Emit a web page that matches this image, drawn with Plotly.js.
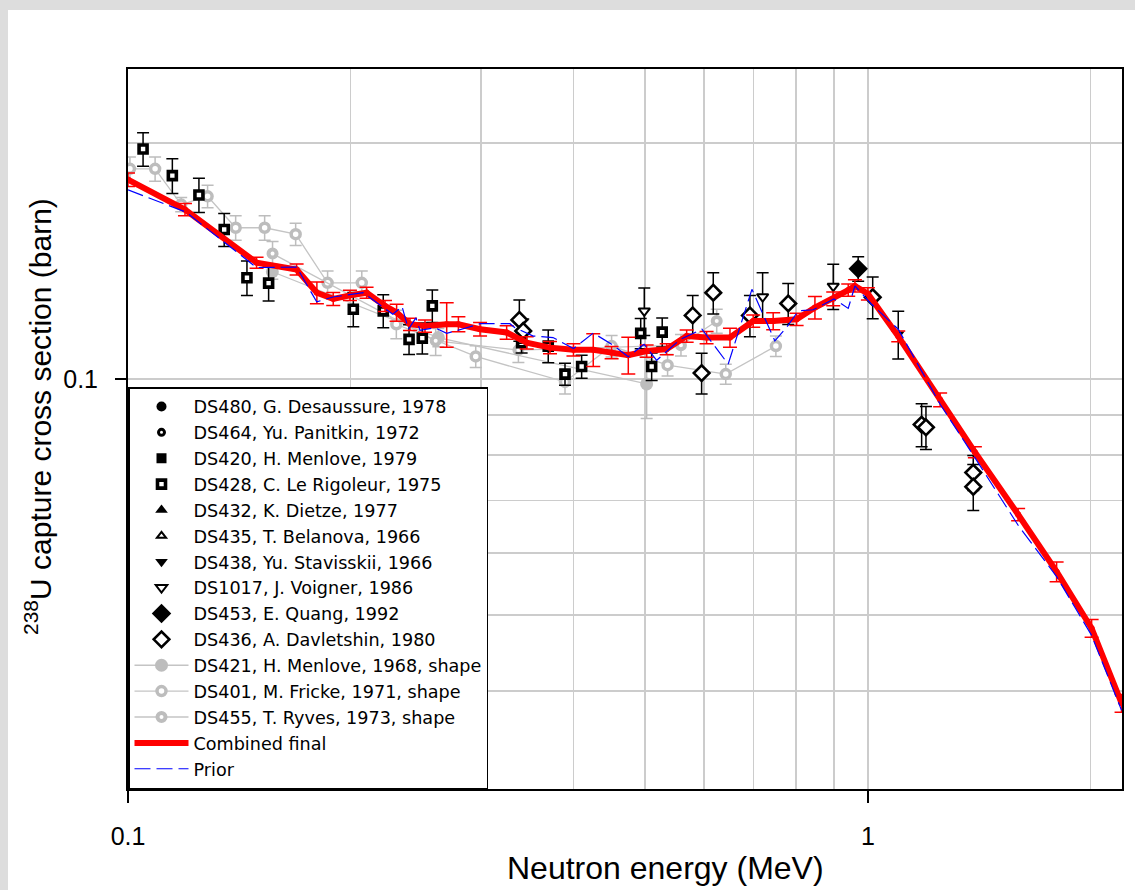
<!DOCTYPE html>
<html>
<head>
<meta charset="utf-8">
<script src="https://cdn.plot.ly/plotly-3.0.1.min.js"></script>
<style>
  html, body { margin: 0; padding: 0; background: #dddddd; width: 1135px; height: 890px; overflow: hidden; }
  #chart { position: absolute; left: 8px; top: 10px; width: 1127px; height: 880px; background: #ffffff; }
</style>
</head>
<body>
<div id="chart"></div>
<script>
// 238U capture cross section, 0.1 - 2.2 MeV

// Combined final evaluation (energy in MeV, cross section in barn, uncertainty in %)
const combinedE = [0.1, 0.1194, 0.1492, 0.169, 0.18, 0.1894, 0.1995, 0.2101, 0.2225, 0.2307,
  0.2405, 0.252, 0.2696, 0.2796, 0.2991, 0.3249, 0.3458, 0.3718, 0.4, 0.4254,
  0.4504, 0.4744, 0.5023, 0.5346, 0.5689, 0.6053, 0.651, 0.6998, 0.7447, 0.801,
  0.848, 0.8977, 0.9406, 0.9604, 1.0, 1.099, 1.252, 1.395, 1.596, 1.799, 2.006, 2.202];
const combinedXS = [0.1797, 0.1646, 0.1408, 0.138, 0.1289, 0.1266, 0.1279, 0.1289, 0.124, 0.1216,
  0.1175, 0.1169, 0.1175, 0.1175, 0.1158, 0.1147, 0.1113, 0.1097, 0.109, 0.109,
  0.1081, 0.1073, 0.1086, 0.1092, 0.1135, 0.113, 0.113, 0.1186, 0.1186, 0.1192,
  0.1234, 0.1266, 0.1299, 0.1315, 0.1285, 0.1134, 0.0941, 0.0807, 0.0672, 0.0568, 0.0481, 0.0386];
const combinedUncPct = [2, 1.8, 1.6, 1.6, 3.2, 1.9, 1.5, 1.6, 1.6, 2.5,
  1.8, 1.8, 6.5, 2.2, 2, 2, 1.8, 1.8, 1.8, 4.8,
  1.8, 5.4, 1.8, 1.6, 1.8, 1.8, 2.8, 1.8, 2.5, 1.8,
  3.3, 2, 1.8, 1.8, 1.8, 1.6, 2, 1.6, 1.8, 2.9, 2.6, 2.6];

// Prior
const priorE = [0.1, 0.1198, 0.1492, 0.169, 0.1799, 0.1893, 0.2078, 0.228, 0.2346, 0.2393,
  0.245, 0.2481, 0.26, 0.2696, 0.2869, 0.2991, 0.3282, 0.3334, 0.3529, 0.3753,
  0.4, 0.4254, 0.4504, 0.4744, 0.4982, 0.5182, 0.5571, 0.5967, 0.6474, 0.697,
  0.7486, 0.7767, 0.8053, 0.8435, 0.8997, 0.9406, 0.9604, 1.009, 1.099, 1.252,
  1.395, 1.596, 1.799, 2.006, 2.202];
const priorXS = [0.1744, 0.1633, 0.1388, 0.139, 0.1255, 0.1273, 0.1289, 0.121, 0.1238, 0.1158,
  0.1197, 0.1154, 0.1163, 0.1144, 0.1163, 0.1177, 0.1177, 0.1163, 0.1135, 0.113,
  0.1094, 0.1145, 0.1108, 0.1068, 0.1108, 0.1057, 0.1123, 0.1158, 0.1045, 0.1302,
  0.1119, 0.1165, 0.1222, 0.1226, 0.1266, 0.1231, 0.1315, 0.1249, 0.1158, 0.0929,
  0.0794, 0.0651, 0.056, 0.0471, 0.0378];

// DS428, C. Le Rigoleur, 1975
const rigoleurE = [0.1048, 0.1148, 0.1247, 0.1349, 0.1448, 0.1549, 0.2016, 0.2213, 0.2398, 0.2499,
  0.2578, 0.3404, 0.3698, 0.3896, 0.4103, 0.4931, 0.5102, 0.5272];
const rigoleurXS = [0.1966, 0.1818, 0.1718, 0.1552, 0.1347, 0.1326, 0.1228, 0.1222, 0.1124, 0.1128,
  0.124, 0.1113, 0.1102, 0.1015, 0.1038, 0.1144, 0.1038, 0.1148];
const rigoleurErr = [0.0097, 0.0093, 0.0086, 0.0075, 0.0068, 0.0068, 0.0062, 0.0059, 0.0049, 0.0051,
  0.0059, 0.0033, 0.0053, 0.0033, 0.0035, 0.0051, 0.0042, 0.0049];

// DS436, A. Davletshin, 1980
const davletshinE = [0.338, 0.3421, 0.5797, 0.596, 0.618, 0.6927, 0.7804, 1.015, 1.182, 1.198, 1.388, 1.388];
const davletshinXS = [0.119, 0.1152, 0.1206, 0.1018, 0.1289, 0.1206, 0.1249, 0.1272, 0.0875, 0.0868, 0.076, 0.0729];
const davletshinErr = [0.0072, 0.0041, 0.0073, 0.0061, 0.0078, 0.0073, 0.0075, 0.0078, 0.0055, 0.0055, 0.0039, 0.0049];

// DS1017, J. Voigner, 1986
const voignerE = [0.4986, 0.7206, 0.8977];
const voignerXS = [0.1222, 0.1274, 0.1314];
const voignerErr = [0.0085, 0.0093, 0.0087];

// DS438, Yu. Stavisskii, 1966
const stavisskiiE = [1.099];
const stavisskiiXS = [0.1141];
const stavisskiiErr = [0.008];

// DS453, E. Quang, 1992
const quangE = [0.9702];
const quangXS = [0.1383];
const quangErr = [0.005];

// DS401, M. Fricke, 1971, shape
const frickeE = [0.1006, 0.1088, 0.118, 0.1281, 0.1398, 0.153, 0.1685, 0.1861, 0.207, 0.2305,
  0.2951, 0.3896, 0.4504, 0.5361, 0.6425, 0.751];
const frickeXS = [0.1855, 0.1855, 0.167, 0.1711, 0.156, 0.156, 0.1531, 0.1327, 0.1327, 0.1175,
  0.1069, 0.0992, 0.1102, 0.1042, 0.1015, 0.1102];
const frickeErr = [0.0066, 0.0066, 0.0035, 0.0057, 0.0056, 0.0056, 0.005, 0.0047, 0.0047, 0.0049,
  0.0034, 0.0035, 0.0035, 0.0033, 0.003, 0.0033];

// DS455, T. Ryves, 1973, shape
const ryvesE = [0.1568, 0.2605, 0.337, 0.5589, 0.6247];
const ryvesXS = [0.1446, 0.1119, 0.1089, 0.1105, 0.1186];
const ryvesErr = [0.0052, 0.0047, 0.0039, 0.0035, 0.0042];

// DS421, H. Menlove, 1968, shape
const menlove68E = [0.1567, 0.2627, 0.5023];
const menlove68XS = [0.1371, 0.113, 0.0986];
const menlove68Err = [0.003, 0.003, 0.0095];

// Axis ticks and grid
const xTickVals = [0.1, 1];
const xTickText = ['0.1', '1'];
const xMinorVals = [0.2, 0.3, 0.4, 0.5, 0.6, 0.7, 0.8, 0.9, 2];
const yTickVals = [0.1];
const yTickText = ['0.1'];
const yMinorVals = [0.03, 0.04, 0.05, 0.06, 0.07, 0.08, 0.09, 0.2];

const FONT = 'Liberation Sans, Arial, sans-serif';
const KEY_FONT = 'DejaVu Sans, Liberation Sans, Arial, sans-serif';
const GRAY = '#bdbdbd';

function errBars(arr, color) {
  return { type: 'data', array: arr, visible: true, color: color, thickness: 1.5, width: 6 };
}

function points(name, rank, x, y, err, marker) {
  return {
    type: 'scatter', mode: 'markers', name: name, legendrank: rank,
    x: x, y: y, error_y: errBars(err, '#000000'), marker: marker
  };
}

function shapeSet(name, rank, x, y, err, marker) {
  return {
    type: 'scatter', mode: 'lines+markers', name: name, legendrank: rank,
    x: x, y: y, error_y: errBars(err, GRAY),
    line: { color: '#c4c4c4', width: 1.3 }, marker: marker
  };
}

// data sets listed in the key that have no point inside this energy window
function legendOnly(name, rank, marker) {
  return { type: 'scatter', mode: 'markers', name: name, legendrank: rank, x: [null], y: [null], marker: marker };
}

const openMarker = (symbol, size, lw) => ({ symbol: symbol, size: size, color: '#ffffff', line: { color: '#000000', width: lw } });
const solidMarker = (symbol, size) => ({ symbol: symbol, size: size, color: '#000000', line: { width: 0 } });

const combinedErr = combinedXS.map((v, i) => v * combinedUncPct[i] / 100);

const traces = [
  legendOnly('DS480, G. Desaussure, 1978', 1, solidMarker('circle', 10)),
  legendOnly('DS464, Yu. Panitkin, 1972', 2, openMarker('circle', 6, 3)),
  legendOnly('DS420, H. Menlove, 1979', 3, solidMarker('square', 10)),
  legendOnly('DS432, K. Dietze, 1977', 5, solidMarker('triangle-up', 11)),
  legendOnly('DS435, T. Belanova, 1966', 6, openMarker('triangle-up', 8, 2)),

  shapeSet('DS421, H. Menlove, 1968, shape', 11, menlove68E, menlove68XS, menlove68Err,
    { symbol: 'circle', size: 13, color: GRAY, line: { width: 0 } }),
  shapeSet('DS401, M. Fricke, 1971, shape', 12, frickeE, frickeXS, frickeErr,
    { symbol: 'circle', size: 9, color: '#ffffff', line: { color: GRAY, width: 3.5 } }),
  shapeSet('DS455, T. Ryves, 1973, shape', 13, ryvesE, ryvesXS, ryvesErr,
    { symbol: 'circle', size: 8, color: '#ffffff', line: { color: GRAY, width: 4 } }),

  points('DS428, C. Le Rigoleur, 1975', 4, rigoleurE, rigoleurXS, rigoleurErr,
    { symbol: 'square', size: 8, color: '#ffffff', line: { color: '#000000', width: 3.6 } }),
  points('DS438, Yu. Stavisskii, 1966', 7, stavisskiiE, stavisskiiXS, stavisskiiErr, solidMarker('triangle-down', 11)),
  points('DS1017, J. Voigner, 1986', 8, voignerE, voignerXS, voignerErr, openMarker('triangle-down', 10, 2)),
  points('DS453, E. Quang, 1992', 9, quangE, quangXS, quangErr, solidMarker('diamond', 15)),
  points('DS436, A. Davletshin, 1980', 10, davletshinE, davletshinXS, davletshinErr, openMarker('diamond', 12, 2.6)),

  {
    type: 'scatter', mode: 'lines+markers', name: 'Combined final', legendrank: 14,
    x: combinedE, y: combinedXS,
    error_y: { type: 'data', array: combinedErr, visible: true, color: '#ff0000', thickness: 1.5, width: 7 },
    line: { color: '#ff0000', width: 6 },
    marker: { symbol: 'circle', size: 6, color: '#ff0000' }
  },
  {
    type: 'scatter', mode: 'lines', name: 'Prior', legendrank: 15,
    x: priorE, y: priorXS,
    line: { color: '#0000ff', width: 1.2, dash: '16px,6px' }
  }
];

const layout = {
  width: 1127, height: 880,
  margin: { l: 120, r: 13, t: 59, b: 101 },
  paper_bgcolor: '#ffffff', plot_bgcolor: '#ffffff',
  font: { family: FONT, color: '#000000' },
  showlegend: true,
  xaxis: {
    type: 'log', range: [Math.log10(0.1), Math.log10(2.205)],
    tickmode: 'array', tickvals: xTickVals, ticktext: xTickText,
    ticks: 'outside', ticklen: 12, tickwidth: 2, tickcolor: '#000000',
    ticklabelstandoff: 12,
    tickfont: { family: FONT, size: 25, color: '#000000' },
    showline: true, linecolor: '#000000', linewidth: 2, mirror: true,
    showgrid: true, gridcolor: '#cccccc', gridwidth: 1.5,
    minor: { tickmode: 'array', tickvals: xMinorVals, ticks: '', showgrid: true, gridcolor: '#cccccc', gridwidth: 1.5 },
    zeroline: false
  },
  yaxis: {
    type: 'log', range: [Math.log10(0.03), Math.log10(0.2487)],
    tickmode: 'array', tickvals: yTickVals, ticktext: yTickText,
    ticks: 'outside', ticklen: 11, tickwidth: 2, tickcolor: '#000000',
    ticklabelstandoff: 12,
    tickfont: { family: FONT, size: 25, color: '#000000' },
    showline: true, linecolor: '#000000', linewidth: 2, mirror: true,
    showgrid: true, gridcolor: '#cccccc', gridwidth: 1.5,
    minor: { tickmode: 'array', tickvals: yMinorVals, ticks: '', showgrid: true, gridcolor: '#cccccc', gridwidth: 1.5 },
    zeroline: false
  },
  legend: {
    x: 0, y: 0, xanchor: 'left', yanchor: 'bottom',
    bgcolor: '#ffffff', bordercolor: '#000000', borderwidth: 1.5,
    font: { family: KEY_FONT, size: 17.6, color: '#000000' },
    itemwidth: 54, tracegroupgap: 0, traceorder: 'normal'
  },
  annotations: [
    {
      text: 'Neutron energy (MeV)', showarrow: false,
      xref: 'paper', yref: 'paper', x: 0.5412, y: -0.1097, xanchor: 'center', yanchor: 'middle',
      font: { family: FONT, size: 32, color: '#000000' }
    },
    {
      text: '<sup>238</sup>U capture cross section (barn)', showarrow: false, textangle: -90,
      xref: 'paper', yref: 'paper', x: -0.0905, y: 0.5167, xanchor: 'center', yanchor: 'middle',
      font: { family: FONT, size: 30, color: '#000000' }
    }
  ]
};

Plotly.newPlot('chart', traces, layout, { displayModeBar: false, staticPlot: true });
</script>
</body>
</html>
